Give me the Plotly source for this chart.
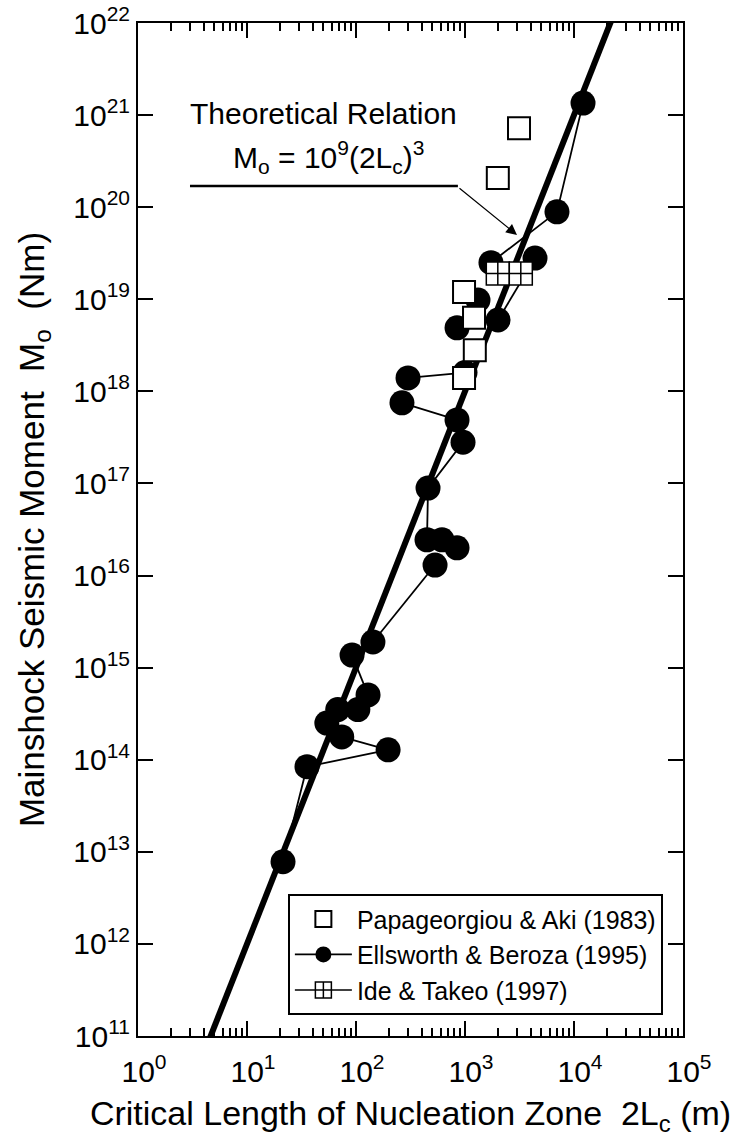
import plotly.graph_objects as go

# ---------------- data ----------------
# Papageorgiou & Aki (1983)
pa_L = [3130, 2000, 980, 1210, 1230, 980]
pa_M = [7.2e20, 2.07e20, 1.2e19, 6.3e18, 2.8e18, 1.4e18]

# Ellsworth & Beroza (1995): groups of connected estimates (None separates groups)
eb_L = [12100, 6980, 1730, None,
        4390, 2010, None,
        845, 1316, None,
        300, 1000, None,
        264, 845, None,
        959, 458, 448, None,
        615, None,
        845, None,
        531, 143, None,
        92, 129, None,
        104, None,
        68, None,
        54, None,
        74, 197, 35.5, 21.4]
eb_M = [1.35e21, 8.9e19, 2.5e19, None,
        2.8e19, 5.96e18, None,
        4.9e18, 9.8e18, None,
        1.4e18, 1.6e18, None,
        7.5e17, 4.9e17, None,
        2.8e17, 8.9e16, 2.44e16, None,
        2.44e16, None,
        2.0e16, None,
        1.3e16, 1.9e15, None,
        1.37e15, 5.06e14, None,
        3.5e14, None,
        3.5e14, None,
        2.5e14, None,
        1.77e14, 1.28e14, 8.4e13, 7.8e12]

# Ide & Takeo (1997)
it_L = [2000, 3250]
it_M = [1.9e19, 1.9e19]

# Theoretical relation Mo = 1e9 (2Lc)^3, two points on the line
th_L = [1.0, 1.0e5]
th_M = [1.0e9, 1.0e24]

x_tickvals = [1, 10, 100, 1000, 10000, 100000]
x_ticktext = ["10<sup>0</sup>", "10<sup>1</sup>", "10<sup>2</sup>", "10<sup>3</sup>",
              "10<sup>4</sup>", "10<sup>5</sup>"]
y_tickvals = [10.0 ** k for k in range(11, 23)]
y_ticktext = ["10<sup>%d</sup>" % k for k in range(11, 23)]
x_minor = [m * 10.0 ** k for k in range(0, 5) for m in range(2, 10)]

FONT = "Liberation Sans, Arial, sans-serif"

fig = go.Figure()

fig.add_trace(go.Scatter(x=th_L, y=th_M, mode="lines",
                         line=dict(color="black", width=6),
                         showlegend=False, hoverinfo="skip"))

fig.add_trace(go.Scatter(x=eb_L, y=eb_M, mode="lines+markers",
                         name="Ellsworth & Beroza (1995)",
                         line=dict(color="black", width=1.8),
                         marker=dict(symbol="circle", size=25, color="black",
                                     line=dict(color="black", width=0)),
                         connectgaps=False))

fig.add_trace(go.Scatter(x=pa_L, y=pa_M, mode="markers",
                         name="Papageorgiou & Aki (1983)",
                         marker=dict(symbol="square", size=22, color="white",
                                     line=dict(color="black", width=2))))

fig.add_trace(go.Scatter(x=it_L, y=it_M, mode="lines+markers",
                         name="Ide & Takeo (1997)",
                         line=dict(color="black", width=1.5),
                         marker=dict(symbol="square-cross", size=23, color="white",
                                     line=dict(color="black", width=1.5))))

# empty traces so that the overlay axes carrying the tick marks are drawn
fig.add_trace(go.Scatter(x=[], y=[], xaxis="x2", yaxis="y", mode="markers",
                         showlegend=False, hoverinfo="skip"))
fig.add_trace(go.Scatter(x=[], y=[], xaxis="x3", yaxis="y", mode="markers",
                         showlegend=False, hoverinfo="skip"))
fig.add_trace(go.Scatter(x=[], y=[], xaxis="x", yaxis="y2", mode="markers",
                         showlegend=False, hoverinfo="skip"))

TICKFONT = dict(family=FONT, size=30, color="black")

fig.update_layout(
    xaxis=dict(type="log", range=[0, 5], showgrid=False, zeroline=False,
               showline=True, linecolor="black", linewidth=2,
               mirror="ticks", ticks="inside", ticklen=15, tickwidth=2,
               tickcolor="black", tickmode="array",
               tickvals=x_tickvals, ticktext=x_ticktext, tickfont=TICKFONT,
               ticklabelstandoff=8, ticklabelshift=6,
               title=dict(text="Critical Length of Nucleation Zone\u00a0\u00a02L<sub>c</sub> (m)",
                          font=dict(family=FONT, size=34, color="black"),
                          standoff=14)),
    # minor x ticks
    xaxis2=dict(type="log", range=[0, 5], overlaying="x", anchor="y",
                side="bottom", showgrid=False, zeroline=False, showline=False,
                mirror="ticks", ticks="inside", ticklen=8, tickwidth=1.5,
                tickcolor="black", tickmode="array", tickvals=x_minor,
                showticklabels=False),
    # major x ticks
    xaxis3=dict(type="log", range=[0, 5], overlaying="x", anchor="y",
                side="bottom", showgrid=False, zeroline=False, showline=False,
                mirror="ticks", ticks="inside", ticklen=15, tickwidth=2,
                tickcolor="black", tickmode="array", tickvals=x_tickvals,
                showticklabels=False),
    yaxis=dict(type="log", range=[11, 22], showgrid=False, zeroline=False,
               showline=True, linecolor="black", linewidth=2,
               mirror="ticks", ticks="inside", ticklen=15, tickwidth=2,
               tickcolor="black", tickmode="array",
               tickvals=y_tickvals, ticktext=y_ticktext, tickfont=TICKFONT,
               title=dict(text="Mainshock Seismic Moment\u00a0\u00a0M<sub>o</sub>\u00a0\u00a0(Nm)",
                          font=dict(family=FONT, size=35, color="black"),
                          standoff=18)),
    # major y ticks
    yaxis2=dict(type="log", range=[11, 22], overlaying="y", anchor="x",
                side="left", showgrid=False, zeroline=False, showline=False,
                mirror="ticks", ticks="inside", ticklen=15, tickwidth=2,
                tickcolor="black", tickmode="array", tickvals=y_tickvals,
                showticklabels=False),
)

fig.add_annotation(xref="paper", yref="paper", x=0.341, y=0.911,
                   text="Theoretical Relation", showarrow=False,
                   xanchor="center", yanchor="middle",
                   font=dict(family=FONT, size=30, color="black"))
fig.add_annotation(xref="paper", yref="paper", x=0.350, y=0.868,
                   text="M<sub>o</sub> = 10<sup>9</sup>(2L<sub>c</sub>)<sup>3</sup>",
                   showarrow=False, xanchor="center", yanchor="middle",
                   font=dict(family=FONT, size=30, color="black"))
fig.add_shape(type="line", xref="paper", yref="paper",
              x0=0.0954, x1=0.587, y0=0.839, y1=0.839,
              line=dict(color="black", width=2.5))
fig.add_annotation(xref="x", yref="y", x=3.477, y=19.698, text="",
                   showarrow=True, axref="pixel", ayref="pixel",
                   ax=-59, ay=-48, arrowhead=2, arrowsize=1.8, arrowwidth=1.2,
                   arrowcolor="black", standoff=0)

fig.update_layout(width=737, height=1142,
                  margin=dict(l=138, r=54, t=23, b=106, autoexpand=False),
                  paper_bgcolor="white", plot_bgcolor="white",
                  font=dict(family=FONT, color="black"),
                  legend=dict(x=0.275, y=0.140, xanchor="left", yanchor="top",
                              bgcolor="white", bordercolor="black", borderwidth=2,
                              font=dict(family=FONT, size=25, color="black"),
                              traceorder="normal", itemwidth=57,
                              tracegroupgap=0))

# legend order: Papageorgiou, Ellsworth, Ide
fig.data[2].legendrank = 1
fig.data[1].legendrank = 2
fig.data[3].legendrank = 3

fig.write_html("out.html")
